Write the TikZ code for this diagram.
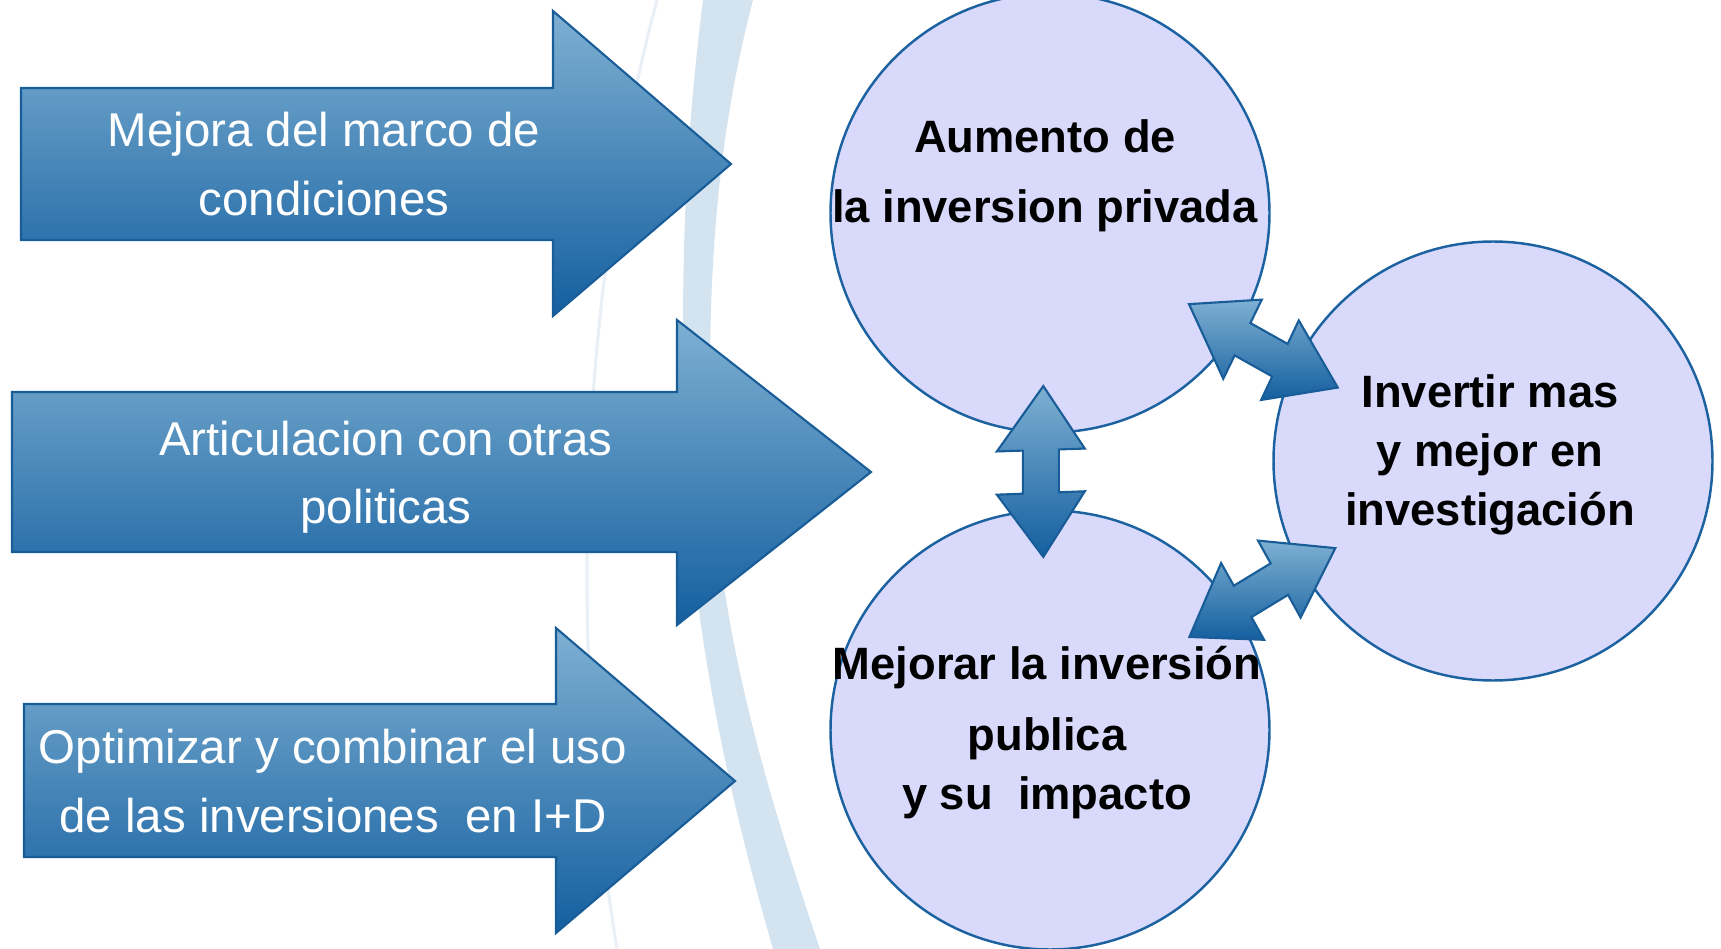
\documentclass[tikz,border=0pt]{standalone}
\usepackage{fontspec}
\setmainfont{Liberation Sans}
\usetikzlibrary{calc}
\definecolor{arrowtop}{RGB}{126,176,210}
\definecolor{arrowbot}{RGB}{20,95,160}
\definecolor{arrowline}{RGB}{24,92,152}
\definecolor{bubblefill}{RGB}{217,217,251}
\definecolor{bubbleline}{RGB}{28,98,160}
\definecolor{bandblue}{RGB}{212,227,240}
\definecolor{bandline}{RGB}{234,240,246}

% block arrow with two heads, laid along the line between two circles
\newcommand{\linkarrow}[3]{%
  \coordinate (lm) at ($(#1)!0.5!(#2)+#3$);
  \coordinate (la) at ($(lm)!8.55mm!(#1)$);
  \coordinate (lb) at ($(lm)!8.55mm!(#2)$);
  \coordinate (lc) at ($(lm)!2.15mm!(#1)$);
  \coordinate (ld) at ($(lm)!2.15mm!(#2)$);
  \draw[linkshade] (la) -- ($(lc)!4.4mm!90:(#2)$) -- ($(lc)!1.8mm!90:(#2)$)
    -- ($(ld)!1.8mm!90:(#2)$) -- ($(ld)!4.4mm!90:(#2)$) -- (lb)
    -- ($(ld)!4.4mm!-90:(#2)$) -- ($(ld)!1.8mm!-90:(#2)$)
    -- ($(lc)!1.8mm!-90:(#2)$) -- ($(lc)!4.4mm!-90:(#2)$) -- cycle;
}

\begin{document}
\begin{tikzpicture}[x=0.1mm,y=-0.1mm,
    bigarrow/.style={draw=arrowline,line width=0.6pt,top color=arrowtop,bottom color=arrowbot},
    linkshade/.style={draw=arrowline,line width=0.6pt,top color=arrowtop,bottom color=arrowbot},
    bubble/.style={circle,draw=bubbleline,fill=bubblefill,line width=0.7pt,minimum size=43.9mm,inner sep=0pt},
    armtext/.style={text=white,align=center,inner sep=0pt,font=\fontsize{13.5}{19.4}\selectfont},
    bubtext/.style={align=center,inner sep=0pt,font=\fontsize{12.9}{16.8}\selectfont\bfseries}]
  \useasboundingbox (0,0) rectangle (1721,949);

  % background band
  \fill[bandblue] (703,0) .. controls (688,120) and (680,240) .. (684,420)
    .. controls (688,620) and (730,800) .. (773,949) -- (820,949)
    .. controls (770,800) and (712,620) .. (710,420)
    .. controls (708,240) and (722,120) .. (753,0) -- cycle;
  \draw[bandline,line width=0.9pt] (657,0) .. controls (590,250) and (560,600) .. (617,949);

  % arrows on the left
  \draw[bigarrow] (21,88) -- (553,88) -- (553,11) -- (731,164) -- (553,316) -- (553,240) -- (21,240) -- cycle;
  \draw[bigarrow] (12,392) -- (677,392) -- (677,320) -- (871,472) -- (677,625) -- (677,552) -- (12,552) -- cycle;
  \draw[bigarrow] (24,704) -- (556,704) -- (556,628) -- (735,781) -- (556,933) -- (556,857) -- (24,857) -- cycle;
  \node[armtext] (marco) at (324,164) {Mejora del marco de\\condiciones};
  \node[armtext] (artic) at (386,477) {Articulacion con otras\\politicas};
  \node[armtext] (optim) at (333,781) {Optimizar y combinar el uso\\de las inversiones\ \ en I+D};

  % circles
  \node[bubble] (aum) at (1050,213) {};
  \node[bubble] (inv) at (1493,461) {};
  \node[bubble] (mej) at (1050,730) {};

  \linkarrow{aum}{mej}{(-10,0)}
  \linkarrow{aum}{inv}{(-11,14)}
  \linkarrow{mej}{inv}{(-11,-6)}

  \node[bubtext] (aumtxt) at (1045,176) {Aumento de\\[3.1pt]la inversion privada};
  \node[bubtext] (invtxt) at (1490,455) {Invertir mas\\y mejor en\\investigación};
  \node[bubtext] (mejtxt) at (1047,733) {Mejorar la inversión\\[3.4pt]publica\\y su\ \ impacto};
\end{tikzpicture}
\end{document}
